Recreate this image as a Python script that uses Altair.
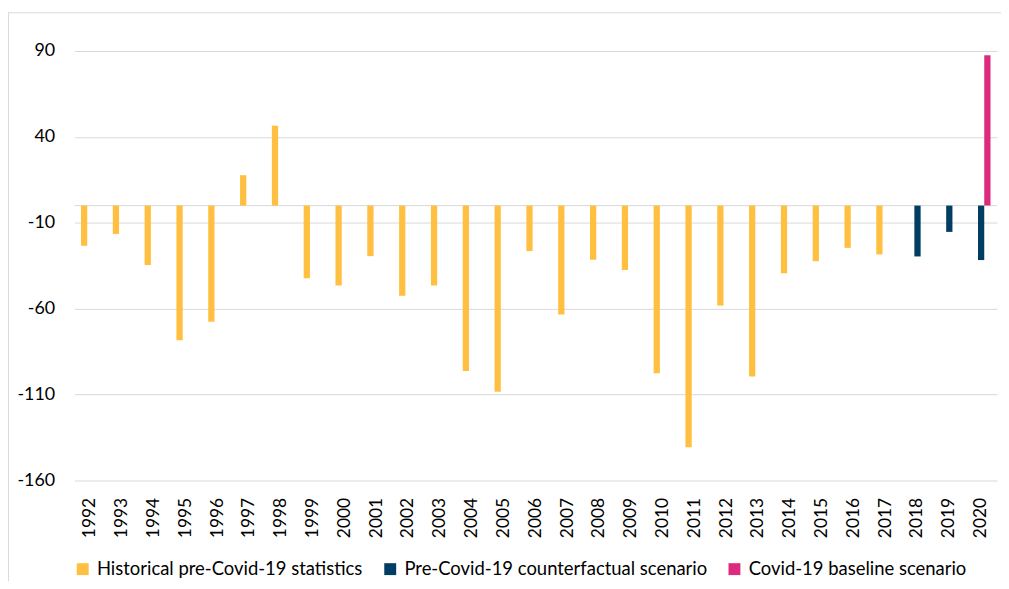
import altair as alt
import pandas as pd

years = [str(y) for y in range(1992, 2021)]
hist_years = [str(y) for y in range(1992, 2018)]
hist_values = [-23.4, -16.5, -34.6, -78.4, -67.6, 17.7, 46.5, -42.3, -46.5, -29.4,
               -52.5, -46.5, -96.3, -108.4, -26.5, -63.4, -31.5, -37.5, -97.6, -140.7,
               -58.2, -99.4, -39.4, -32.3, -24.6, -28.4]
cf_years = ["2018", "2019", "2020"]
cf_values = [-29.6, -15.3, -31.7]
base_years = ["2020"]
base_values = [87.5]

series = ["Historical pre-Covid-19 statistics",
          "Pre-Covid-19 counterfactual scenario",
          "Covid-19 baseline scenario"]
colors = ["#FFBF40", "#003D64", "#DE2A7E"]
y_ticks = [-160, -110, -60, -10, 40, 90]

rows = []
for y, v in zip(hist_years, hist_values):
    rows.append({"year": y, "value": v, "series": series[0]})
for y, v in zip(cf_years, cf_values):
    rows.append({"year": y, "value": v, "series": series[1]})
for y, v in zip(base_years, base_values):
    rows.append({"year": y, "value": v, "series": series[2]})
df = pd.DataFrame(rows)

FONT = "Lato"

bars = alt.Chart(df).mark_bar().encode(
    x=alt.X("year:N", sort=years,
            scale=alt.Scale(domain=years, paddingInner=0.41, paddingOuter=0.205),
            axis=alt.Axis(title=None, labelAngle=-90, labelAlign="right", labelBaseline="middle",
                          labelPadding=17, ticks=False, domain=False, grid=False,
                          labelFont=FONT, labelFontSize=17.5, labelColor="#000000")),
    xOffset=alt.XOffset("series:N", sort=series, scale=alt.Scale(domain=series)),
    y=alt.Y("value:Q",
            scale=alt.Scale(domain=[-160, 90], nice=False, zero=False),
            axis=alt.Axis(title=None, values=y_ticks, grid=True, gridColor="#d9d9d9",
                          domain=False, ticks=False, labelPadding=20,
                          labelExpr="'' + datum.value",
                          labelFont=FONT, labelFontSize=18, labelColor="#000000")),
    color=alt.Color("series:N", sort=series,
                    scale=alt.Scale(domain=series, range=colors),
                    legend=alt.Legend(title=None, orient="none", direction="horizontal",
                                      legendX=-1, legendY=513, symbolType="square",
                                      symbolSize=144, symbolStrokeWidth=0, labelOffset=5,
                                      columnPadding=18, labelFont=FONT, labelFontSize=18.6,
                                      labelColor="#000000", labelLimit=400)),
)

zero = alt.Chart(pd.DataFrame({"z": [0]})).mark_rule(color="#d9d9d9", strokeWidth=1).encode(
    y="z:Q")

frame_df = pd.DataFrame({"k": [0]})
top_border = alt.Chart(frame_df).mark_rule(color="#d9d9d9", strokeWidth=1).encode(
    x=alt.value(-67), x2=alt.value(940), y=alt.value(-38.5))
left_border = alt.Chart(frame_df).mark_rule(color="#d9d9d9", strokeWidth=1).encode(
    x=alt.value(-66.5), y=alt.value(-38.5), y2=alt.value(560))

chart = alt.layer(zero, bars, top_border, left_border).properties(
    width=930, height=433,
    autosize=alt.AutoSizeParams(type="none"),
    padding={"left": 67, "top": 41, "right": 4, "bottom": 99},
).configure_view(stroke=None)

chart.save("out.html", embed_options={"renderer": "svg", "actions": False})
